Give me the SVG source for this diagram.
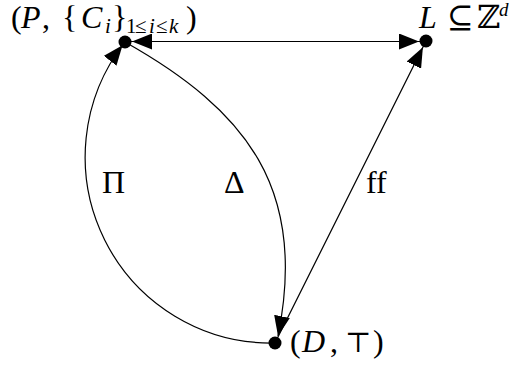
<svg xmlns="http://www.w3.org/2000/svg" width="515" height="367" viewBox="0 0 515 367">
<style>
.edge{fill:none;stroke:#000;stroke-width:1.2}
.dot{fill:#000}
.t{font-family:"Liberation Serif","DejaVu Serif",serif;font-size:32px;fill:#000}
.it{font-style:italic}
.sub{font-size:21px}
</style>
<defs>
<marker id="ah" markerUnits="userSpaceOnUse" viewBox="0 0 20 16" markerWidth="20" markerHeight="16" refX="27" refY="8" orient="auto-start-reverse">
<path d="M0,0 L20,8 L0,16 z" fill="#000"/>
</marker>
<marker id="ah4" markerUnits="userSpaceOnUse" viewBox="0 0 20 16" markerWidth="20" markerHeight="16" refX="24" refY="8" orient="auto">
<path d="M0,0 L20,8 L0,16 z" fill="#000"/>
</marker>
<marker id="ah0" markerUnits="userSpaceOnUse" viewBox="0 0 20 16" markerWidth="20" markerHeight="16" refX="20" refY="8" orient="auto">
<path d="M0,0 L20,8 L0,16 z" fill="#000"/>
</marker>
</defs>
<rect width="515" height="367" fill="#fff"/>
<g id="connectors">
<path id="e-PL" class="edge" d="M125,41.5 L426,41.5" marker-start="url(#ah)" marker-end="url(#ah)"/>
<path id="e-Pi" class="edge" d="M275,343 A186,186 0 0,1 125,42" marker-end="url(#ah4)"/>
<path id="e-Delta" class="edge" d="M125,42 C246.8,110.6 308,189 278,336" marker-end="url(#ah0)"/>
<path id="e-ff" class="edge" d="M275,343 L426,41" marker-end="url(#ah)"/>
</g>
<g id="node-P">
<circle class="dot" cx="125" cy="42" r="6.5"/>
<text class="t" y="28"><tspan x="11">(</tspan><tspan x="21" class="it">P</tspan><tspan x="42">,</tspan><tspan x="62">{</tspan><tspan x="81" class="it">C</tspan><tspan x="105" y="33" class="it sub">i</tspan><tspan x="112" y="28">}</tspan><tspan x="126" y="33" class="sub">1</tspan><tspan x="135" y="33" class="sub">≤</tspan><tspan x="149" y="33" class="sub it">i</tspan><tspan x="156" y="33" class="sub">≤</tspan><tspan x="169" y="33" class="sub it">k</tspan><tspan x="186" y="28">)</tspan></text>
</g>
<g id="node-L">
<circle class="dot" cx="426" cy="41" r="6.5"/>
<text class="t" y="28"><tspan x="419" class="it">L</tspan><tspan x="447">⊆</tspan><tspan x="477">ℤ</tspan><tspan x="499" y="16" style="font-size:19px" class="it">d</tspan></text>
</g>
<g id="node-D">
<circle class="dot" cx="275" cy="343" r="6.5"/>
<text class="t" y="352"><tspan x="290">(</tspan><tspan x="302" class="it">D</tspan><tspan x="330">,</tspan><tspan x="345" style="font-size:28px">⊤</tspan><tspan x="373">)</tspan></text>
</g>
<g id="labels">
<text class="t" x="102" y="193">Π</text>
<text class="t" x="224" y="193">Δ</text>
<text class="t" x="366" y="193">ff</text>
</g>
</svg>
